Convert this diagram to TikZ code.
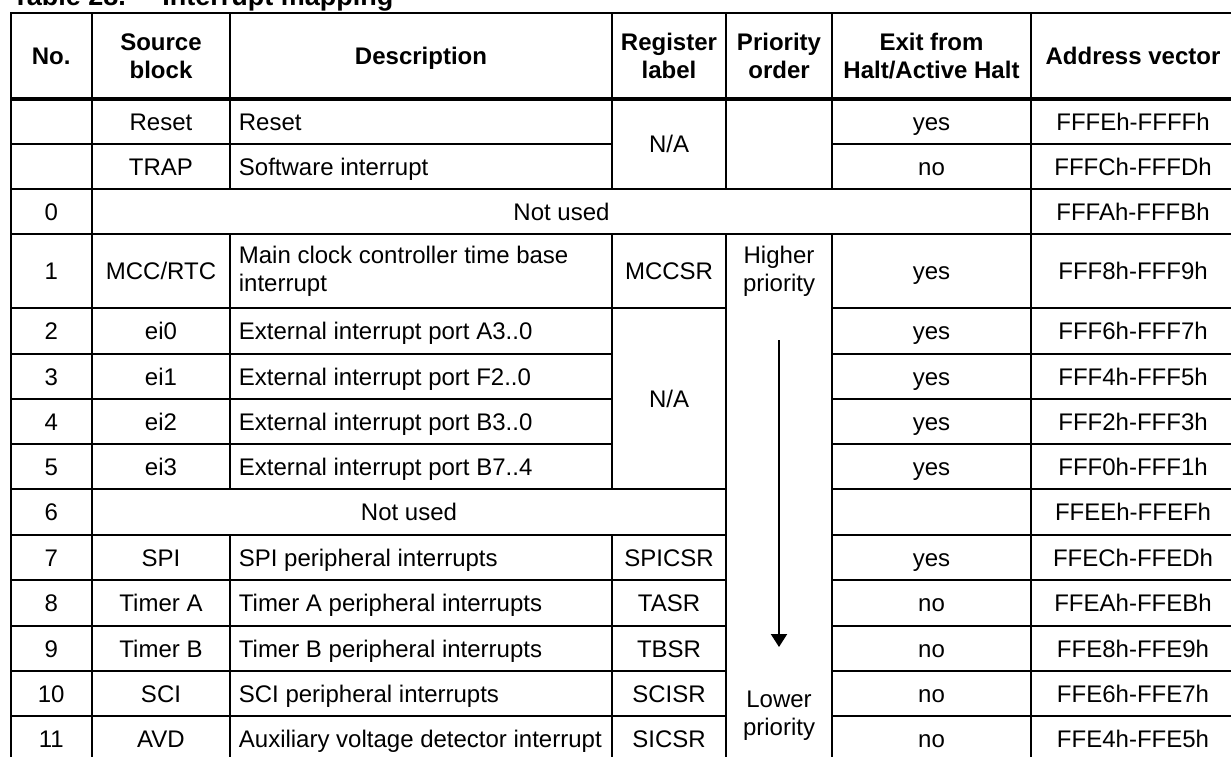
\documentclass[tikz,border=0pt]{standalone}
\usepackage{fontspec}
\setmainfont{Liberation Sans}
\usetikzlibrary{arrows.meta}
\begin{document}
\begin{tikzpicture}[x=0.5pt,y=-0.5pt,
  grid/.style={line width=1pt, line cap=rect},
  headrule/.style={line width=2pt},
  cell/.style={inner sep=0pt, text height=10.8pt, text depth=2.2pt, font=\fontsize{12}{14.2}\selectfont},
  lcell/.style={cell, anchor=west},
  mcell/.style={inner sep=0pt, align=center, font=\fontsize{12}{14.2}\selectfont},
  lmcell/.style={inner sep=0pt, align=left, anchor=west, font=\fontsize{12}{14.2}\selectfont},
  hcell/.style={cell, font=\bfseries\fontsize{12}{14.2}\selectfont},
  hmcell/.style={mcell, font=\bfseries\fontsize{12}{14.2}\selectfont},
  titlestyle/.style={inner sep=0pt, anchor=base west, font=\bfseries\fontsize{13.5}{16}\selectfont},
  prioarrow/.style={line width=1pt, -{Triangle[width=8pt,length=6.5pt]}}
]
\useasboundingbox (0,0) rectangle (1231,756);

% title (cut by the top edge)
\node[titlestyle] (title1) at (12,5.5) {Table 28.};
\node[titlestyle] (title2) at (162,5.5) {Interrupt mapping};

% ---------------- grid ----------------
% horizontal rules
\draw[grid] (10.5,13) -- (1240,13);
\draw[headrule] (10.5,99) -- (1240,99);
\draw[grid] (10.5,144) -- (612,144);  \draw[grid] (832,144) -- (1240,144);
\draw[grid] (10.5,189) -- (1240,189);
\draw[grid] (10.5,234) -- (1240,234);
\draw[grid] (10.5,308) -- (726,308);  \draw[grid] (832,308) -- (1240,308);
\foreach \yy in {354,399,444} {
  \draw[grid] (10.5,\yy) -- (612,\yy);  \draw[grid] (832,\yy) -- (1240,\yy);
}
\foreach \yy in {489,535,580,626,671,716} {
  \draw[grid] (10.5,\yy) -- (726,\yy);  \draw[grid] (832,\yy) -- (1240,\yy);
}
% vertical rules
\draw[grid] (10.5,13) -- (10.5,770);
\draw[grid] (92,13) -- (92,770);
\draw[grid] (230,13) -- (230,189);  \draw[grid] (230,234) -- (230,489);  \draw[grid] (230,535) -- (230,770);
\draw[grid] (612,13) -- (612,189);  \draw[grid] (612,234) -- (612,489);  \draw[grid] (612,535) -- (612,770);
\draw[grid] (726,13) -- (726,189);  \draw[grid] (726,234) -- (726,770);
\draw[grid] (832,13) -- (832,189);  \draw[grid] (832,234) -- (832,770);
\draw[grid] (1031,13) -- (1031,770);

% ---------------- header ----------------
\node[hcell]  (hno)   at (51.25,56) {No.};
\node[hmcell] (hsrc)  at (161,56)   {Source\\block};
\node[hcell]  (hdesc) at (421,56)   {Description};
\node[hmcell] (hreg)  at (669,56)   {Register\\label};
\node[hmcell] (hpri)  at (779,56)   {Priority\\order};
\node[hmcell] (hexit) at (931.5,56) {Exit from\\Halt/Active Halt};
\node[hcell]  (haddr) at (1133,56)  {Address vector};

% ---------------- Reset / TRAP ----------------
\node[cell]  (s-reset) at (161,121.5) {Reset};
\node[lcell] (d-reset) at (238.5,121.5) {Reset};
\node[cell]  (e-reset) at (931.5,121.5) {yes};
\node[cell]  (a-reset) at (1133,121.5) {FFFEh-FFFFh};

\node[cell]  (s-trap) at (161,166.5) {TRAP};
\node[lcell] (d-trap) at (238.5,166.5) {Software interrupt};
\node[cell]  (e-trap) at (931.5,166.5) {no};
\node[cell]  (a-trap) at (1133,166.5) {FFFCh-FFFDh};

\node[cell] (r-na1) at (669,144) {N/A};

% ---------------- row 0 ----------------
\node[cell] (n0) at (51.25,211.5) {0};
\node[cell] (u0) at (561.5,211.5) {Not used};
\node[cell] (a0) at (1133,211.5) {FFFAh-FFFBh};

% ---------------- row 1 ----------------
\node[cell]   (n1) at (51.25,271) {1};
\node[cell]   (s1) at (161,271) {MCC/RTC};
\node[lmcell] (d1) at (238.5,271) {Main clock controller time base\\interrupt};
\node[cell]   (r1) at (669,271) {MCCSR};
\node[mcell]  (phigh) at (779,271) {Higher\\priority};
\node[cell]   (e1) at (931.5,271) {yes};
\node[cell]   (a1) at (1133,271) {FFF8h-FFF9h};

% ---------------- rows 2-5 ----------------
\node[cell]  (n2) at (51.25,331) {2};
\node[cell]  (s2) at (161,331) {ei0};
\node[lcell] (d2) at (238.5,331) {External interrupt port A3..0};
\node[cell]  (e2) at (931.5,331) {yes};
\node[cell]  (a2) at (1133,331) {FFF6h-FFF7h};

\node[cell]  (n3) at (51.25,376.5) {3};
\node[cell]  (s3) at (161,376.5) {ei1};
\node[lcell] (d3) at (238.5,376.5) {External interrupt port F2..0};
\node[cell]  (e3) at (931.5,376.5) {yes};
\node[cell]  (a3) at (1133,376.5) {FFF4h-FFF5h};

\node[cell]  (n4) at (51.25,421.5) {4};
\node[cell]  (s4) at (161,421.5) {ei2};
\node[lcell] (d4) at (238.5,421.5) {External interrupt port B3..0};
\node[cell]  (e4) at (931.5,421.5) {yes};
\node[cell]  (a4) at (1133,421.5) {FFF2h-FFF3h};

\node[cell]  (n5) at (51.25,466.5) {5};
\node[cell]  (s5) at (161,466.5) {ei3};
\node[lcell] (d5) at (238.5,466.5) {External interrupt port B7..4};
\node[cell]  (e5) at (931.5,466.5) {yes};
\node[cell]  (a5) at (1133,466.5) {FFF0h-FFF1h};

\node[cell] (r-na2) at (669,398.5) {N/A};

% ---------------- row 6 ----------------
\node[cell] (n6) at (51.25,512) {6};
\node[cell] (u6) at (409,512) {Not used};
\node[cell] (a6) at (1133,512) {FFEEh-FFEFh};

% ---------------- rows 7-11 ----------------
\node[cell]  (n7) at (51.25,557.5) {7};
\node[cell]  (s7) at (161,557.5) {SPI};
\node[lcell] (d7) at (238.5,557.5) {SPI peripheral interrupts};
\node[cell]  (r7) at (669,557.5) {SPICSR};
\node[cell]  (e7) at (931.5,557.5) {yes};
\node[cell]  (a7) at (1133,557.5) {FFECh-FFEDh};

\node[cell]  (n8) at (51.25,603) {8};
\node[cell]  (s8) at (161,603) {Timer A};
\node[lcell] (d8) at (238.5,603) {Timer A peripheral interrupts};
\node[cell]  (r8) at (669,603) {TASR};
\node[cell]  (e8) at (931.5,603) {no};
\node[cell]  (a8) at (1133,603) {FFEAh-FFEBh};

\node[cell]  (n9) at (51.25,648.5) {9};
\node[cell]  (s9) at (161,648.5) {Timer B};
\node[lcell] (d9) at (238.5,648.5) {Timer B peripheral interrupts};
\node[cell]  (r9) at (669,648.5) {TBSR};
\node[cell]  (e9) at (931.5,648.5) {no};
\node[cell]  (a9) at (1133,648.5) {FFE8h-FFE9h};

\node[cell]  (n10) at (51.25,693.5) {10};
\node[cell]  (s10) at (161,693.5) {SCI};
\node[lcell] (d10) at (238.5,693.5) {SCI peripheral interrupts};
\node[cell]  (r10) at (669,693.5) {SCISR};
\node[cell]  (e10) at (931.5,693.5) {no};
\node[cell]  (a10) at (1133,693.5) {FFE6h-FFE7h};

\node[cell]  (n11) at (51.25,739) {11};
\node[cell]  (s11) at (161,739) {AVD};
\node[lcell] (d11) at (238.5,739) {Auxiliary voltage detector interrupt};
\node[cell]  (r11) at (669,739) {SICSR};
\node[cell]  (e11) at (931.5,739) {no};
\node[cell]  (a11) at (1133,739) {FFE4h-FFE5h};

\node[mcell] (plow) at (779,716) {Lower\\priority};

% priority arrow
\coordinate (atop) at (779,340);
\coordinate (abot) at (779,647);
\draw[prioarrow] (atop) -- (abot);
\end{tikzpicture}
\end{document}
